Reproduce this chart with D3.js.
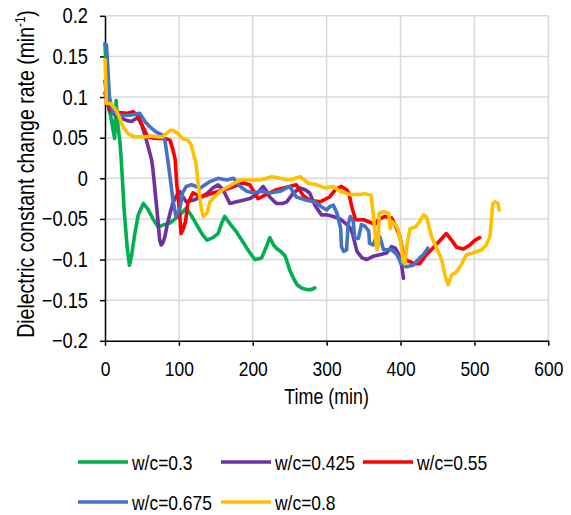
<!DOCTYPE html>
<html>
<head>
<meta charset="utf-8">
<script src="https://cdn.jsdelivr.net/npm/d3@7"></script>
<style>
  body { margin: 0; background: #fff; }
  svg text { font-family: "Liberation Sans", Arial, sans-serif; fill: #000; }
  .grid line { stroke: #d9d9d9; stroke-width: 1.5; }
  .axis path, .axis line { stroke: #000; stroke-width: 1.5; }
  .series { fill: none; stroke-width: 3.6; stroke-linejoin: round; stroke-linecap: round; }
</style>
</head>
<body>
<script>
// Width and height
var w = 571,
    h = 515,
    narrow = 0.83; // the original uses a condensed face

// Tick values
var xTicks = [0, 100, 200, 300, 400, 500, 600];
var yTicks = [-0.2, -0.15, -0.1, -0.05, 0, 0.05, 0.1, 0.15, 0.2];

// Series names and colours
var names = ['w/c=0.3', 'w/c=0.425', 'w/c=0.55', 'w/c=0.675', 'w/c=0.8'];
var colors = ['#00b050', '#7030a0', '#ff0000', '#4472c4', '#ffc000'];

// [time (min), rate (min-1)]
var wc030 = [[0,0.164],[2,0.13],[4,0.09],[8,0.075],[13,0.049],[15,0.096],[18,0.06],[20,0.047],
  [22,0.023],[26,-0.04],[30,-0.085],[33,-0.107],[36,-0.095],[40,-0.07],[45,-0.045],[52,-0.031],
  [58,-0.038],[65,-0.05],[72,-0.060],[80,-0.057],[88,-0.055],[95,-0.05],[101,-0.045],[110,-0.037],
  [117,-0.046],[124,-0.057],[131,-0.068],[138,-0.076],[146,-0.073],[153,-0.068],[158,-0.055],
  [162,-0.047],[170,-0.057],[178,-0.066],[185,-0.076],[192,-0.086],[198,-0.094],[203,-0.100],
  [212,-0.098],[218,-0.085],[223,-0.073],[228,-0.082],[232,-0.086],[238,-0.09],[244,-0.096],
  [250,-0.113],[255,-0.123],[260,-0.131],[266,-0.135],[273,-0.137],[279,-0.137],[284,-0.135]];

var wc0425 = [[0,0.12],[3,0.095],[6,0.084],[12,0.079],[22,0.074],[30,0.071],[36,0.070],[41,0.073],
  [45,0.074],[50,0.065],[56,0.047],[63,0.023],[65,0.010],[69,-0.027],[72,-0.055],[74,-0.076],
  [76,-0.082],[78,-0.080],[81,-0.072],[84,-0.058],[88,-0.043],[92,-0.03],[97,-0.021],[101,-0.016],
  [105,-0.022],[110,-0.029],[119,-0.027],[130,-0.023],[139,-0.018],[146,-0.012],[153,-0.008],
  [158,-0.012],[162,-0.018],[169,-0.031],[178,-0.029],[187,-0.027],[196,-0.025],[205,-0.02],
  [214,-0.010],[218,-0.015],[223,-0.023],[232,-0.031],[240,-0.031],[246,-0.029],[255,-0.018],
  [264,-0.012],[271,-0.014],[277,-0.018],[284,-0.033],[293,-0.045],[300,-0.045],[309,-0.047],
  [318,-0.05],[325,-0.055],[331,-0.06],[335,-0.068],[341,-0.09],[348,-0.098],[354,-0.100],
  [363,-0.096],[372,-0.094],[381,-0.092],[388,-0.084],[393,-0.086],[399,-0.096],[402,-0.11],
  [404,-0.123]];

var wc055 = [[0,0.105],[5,0.088],[10,0.083],[18,0.081],[31,0.080],[38,0.082],[45,0.076],
  [51,0.064],[58,0.051],[69,0.049],[81,0.049],[88,0.047],[92,0.035],[95,0.023],[97,-0.006],
  [101,-0.043],[103,-0.068],[106,-0.062],[109,-0.053],[112,-0.031],[119,-0.018],[130,-0.023],
  [146,-0.018],[169,-0.012],[187,-0.006],[196,-0.008],[207,-0.025],[216,-0.021],[232,-0.014],
  [250,-0.010],[259,-0.008],[268,-0.021],[277,-0.027],[291,-0.029],[304,-0.023],[312,-0.014],
  [320,-0.010],[327,-0.014],[330,-0.018],[334,-0.035],[339,-0.051],[350,-0.051],[361,-0.055],
  [365,-0.057],[370,-0.051],[379,-0.047],[388,-0.049],[392,-0.056],[399,-0.071],[403,-0.090],
  [408,-0.101],[414,-0.103],[418,-0.105],[426,-0.105],[435,-0.094],[446,-0.084],[458,-0.072],
  [462,-0.068],[469,-0.076],[476,-0.085],[485,-0.087],[494,-0.082],[501,-0.076],[507,-0.073]];

var wc0675 = [[0,0.166],[2,0.164],[4,0.133],[6,0.100],[11,0.080],[22,0.077],[36,0.078],[47,0.080],
  [54,0.070],[60,0.064],[69,0.057],[78,0.053],[81,0.047],[83,0.035],[88,0.002],[92,-0.027],
  [96,-0.047],[101,-0.039],[105,-0.018],[110,-0.010],[117,-0.008],[129,-0.012],[142,-0.004],
  [153,0.000],[165,-0.002],[174,0.000],[183,-0.010],[192,-0.016],[201,-0.018],[210,-0.016],
  [223,-0.018],[237,-0.016],[250,-0.010],[259,-0.023],[273,-0.027],[284,-0.029],[293,-0.035],
  [300,-0.039],[304,-0.035],[309,-0.033],[314,-0.043],[319,-0.062],[320,-0.084],[323,-0.090],
  [327,-0.088],[329,-0.057],[332,-0.047],[336,-0.053],[338,-0.074],[343,-0.074],[347,-0.057],
  [352,-0.059],[357,-0.065],[358,-0.080],[363,-0.082],[368,-0.070],[372,-0.072],[377,-0.088],
  [388,-0.088],[395,-0.094],[401,-0.105],[408,-0.109],[417,-0.107],[426,-0.098],[431,-0.094],
  [437,-0.086]];

var wc08 = [[0,0.146],[1,0.12],[2,0.092],[8,0.092],[15,0.084],[20,0.074],[24,0.064],[31,0.055],
  [40,0.051],[54,0.051],[63,0.052],[72,0.051],[78,0.051],[83,0.055],[88,0.059],[92,0.059],
  [99,0.055],[105,0.049],[112,0.047],[117,0.041],[120,0.029],[123,0.020],[126,-0.006],
  [130,-0.035],[133,-0.047],[138,-0.043],[142,-0.029],[156,-0.016],[171,-0.008],[183,-0.002],
  [196,-0.002],[210,-0.002],[226,0.002],[237,0.000],[250,-0.002],[264,0.002],[275,-0.006],
  [287,-0.008],[298,-0.012],[309,-0.010],[318,-0.016],[331,-0.020],[345,-0.020],[352,-0.019],
  [360,-0.021],[363,-0.043],[366,-0.072],[368,-0.088],[370,-0.084],[371,-0.043],[377,-0.041],
  [384,-0.043],[386,-0.062],[388,-0.053],[394,-0.058],[397,-0.064],[401,-0.082],[403.5,-0.103],
  [406,-0.105],[409,-0.080],[413,-0.062],[420,-0.060],[426,-0.053],[431,-0.045],[435,-0.047],
  [442,-0.072],[449,-0.086],[456,-0.101],[460,-0.119],[464.5,-0.131],[469,-0.119],[476,-0.115],
  [483,-0.105],[489,-0.094],[498,-0.092],[510,-0.088],[516,-0.082],[521,-0.072],[523,-0.051],
  [525,-0.031],[528,-0.029],[532,-0.031],[533.5,-0.039]];

var dataset = [wc030, wc0425, wc055, wc0675, wc08];

// squeeze text horizontally so it reads like the condensed original
function squeeze(sel) {
  sel.each(function() {
    var len = this.getComputedTextLength();
    d3.select(this)
      .attr('textLength', len * narrow)
      .attr('lengthAdjust', 'spacingAndGlyphs');
  });
}

// Set scales
var xScale = d3.scaleLinear()
               .domain([0, 600])
               .range([105, 548.3]);

var yScale = d3.scaleLinear()
               .domain([-0.2, 0.2])
               .range([340.8, 15.8]); // invert to display properly

var svg = d3.select('body')
            .append('svg')
            .attr('width', w)
            .attr('height', h);

// Gridlines
var grid = svg.append('g').attr('class', 'grid');

grid.selectAll('line.h')
    .data(yTicks.slice(1))
    .enter()
    .append('line')
    .attr('class', 'h')
    .attr('x1', xScale(0))
    .attr('x2', xScale(600))
    .attr('y1', function(d) { return yScale(d); })
    .attr('y2', function(d) { return yScale(d); });

grid.selectAll('line.v')
    .data(xTicks.slice(1))
    .enter()
    .append('line')
    .attr('class', 'v')
    .attr('x1', function(d) { return xScale(d); })
    .attr('x2', function(d) { return xScale(d); })
    .attr('y1', yScale(0.2))
    .attr('y2', yScale(-0.2));

// Axes
var xAxis = d3.axisBottom()
              .scale(xScale)
              .tickValues(xTicks)
              .tickSize(5)
              .tickSizeOuter(0)
              .tickPadding(10)
              .tickFormat(d3.format('d'));

var yAxis = d3.axisLeft()
              .scale(yScale)
              .tickValues(yTicks)
              .tickSize(5)
              .tickSizeOuter(0)
              .tickPadding(12)
              .tickFormat(function(d) { return d3.format('')(+d.toFixed(2)); });

var gx = svg.append('g')
   .attr('class', 'axis')
   .attr('transform', 'translate(0, ' + yScale(-0.2) + ')')
   .call(xAxis);
gx.selectAll('text').attr('font-size', 21).attr('dy', '0.95em').call(squeeze);

var gy = svg.append('g')
   .attr('class', 'axis')
   .attr('transform', 'translate(' + xScale(0) + ', 0)')
   .call(yAxis);
gy.selectAll('text').attr('font-size', 22).call(squeeze);

// Lines
var line = d3.line()
             .x(function(d) { return xScale(d[0]); })
             .y(function(d) { return yScale(d[1]); });

svg.selectAll('path.series')
   .data(dataset)
   .enter()
   .append('path')
   .attr('class', 'series')
   .attr('stroke', function(d, i) { return colors[i]; })
   .attr('d', line);

// Axis titles
svg.append('text')
   .attr('x', (xScale(0) + xScale(600)) / 2)
   .attr('y', 404)
   .attr('text-anchor', 'middle')
   .attr('font-size', 21.5)
   .text('Time (min)')
   .call(squeeze);

var yTitle = svg.append('text')
   .attr('transform', 'translate(34, 174) rotate(-90) scale(' + narrow + ', 1)')
   .attr('text-anchor', 'middle')
   .attr('font-size', 23.5);
yTitle.append('tspan').text('Dielectric constant change rate (min');
yTitle.append('tspan').attr('font-size', 14).attr('dy', -9).text('-1');
yTitle.append('tspan').attr('dy', 9).text(')');

// Legend
var legendPos = [[78, 462], [221, 462], [363, 462], [78, 502], [221, 502]];

var legend = svg.selectAll('g.legend')
   .data(names)
   .enter()
   .append('g')
   .attr('class', 'legend')
   .attr('transform', function(d, i) { return 'translate(' + legendPos[i][0] + ',' + legendPos[i][1] + ')'; });

legend.append('line')
      .attr('x1', 0)
      .attr('x2', 50)
      .attr('stroke', function(d, i) { return colors[i]; })
      .attr('stroke-width', 3.5);

legend.append('text')
      .attr('x', 54)
      .attr('dy', '0.36em')
      .attr('font-size', 21)
      .text(function(d) { return d; })
      .call(squeeze);
</script>
</body>
</html>
